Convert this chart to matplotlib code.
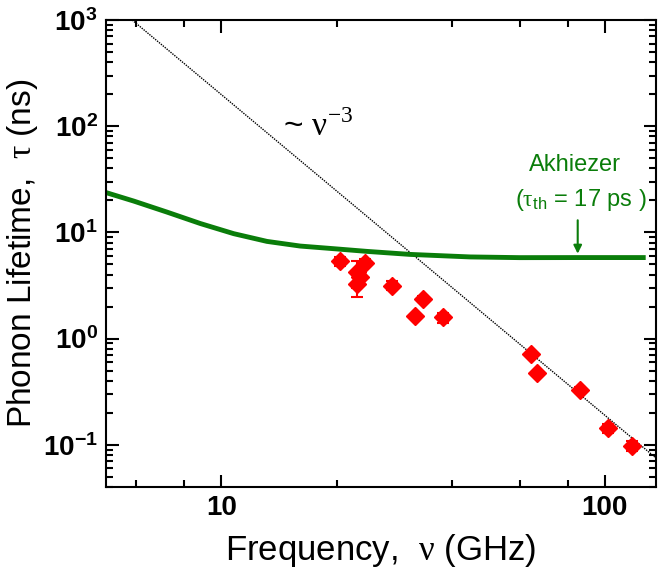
import matplotlib
matplotlib.use("Agg")
import matplotlib.pyplot as plt
from matplotlib.ticker import LogLocator, NullFormatter

plt.rcParams["font.family"] = ["Liberation Sans", "DejaVu Sans"]
plt.rcParams["mathtext.fontset"] = "custom"
plt.rcParams["mathtext.rm"] = "Liberation Serif"
plt.rcParams["mathtext.it"] = "Liberation Sans:italic"
plt.rcParams["mathtext.sf"] = "Liberation Sans"
plt.rcParams["mathtext.bf"] = "Liberation Sans:bold"

# measured phonon lifetimes (GHz, ns)
freq = [20.4, 22.6, 23.0, 22.6, 23.7, 27.8, 31.9, 33.6, 37.9, 64.1, 66.4, 86.1, 102, 118]
tau = [5.36, 4.22, 3.8, 3.28, 5.2, 3.15, 1.62, 2.36, 1.58, 0.72, 0.47, 0.33, 0.143, 0.098]
tau_err = [0.5, 1.2, 0.3, 0.8, 0.4, 0.3, 0.0, 0.15, 0.17, 0.0, 0.0, 0.02, 0.015, 0.01]

# Akhiezer curve (tau_th = 17 ps)
akh_freq = [5.04, 5.91, 7.22, 8.82, 10.77, 13.15, 16.06, 19.61, 23.96, 31.06,
            44.5, 60.0, 85.0, 126.0]
akh_tau = [23.5, 19.7, 15.5, 12.1, 9.72, 8.22, 7.43, 7.02, 6.62, 6.20,
           5.87, 5.78, 5.79, 5.79]

# ~nu^-3 guide line end points
guide_freq = [5.85, 136.0]
guide_tau = [1000.0, 0.075]

green = "#0a7d0a"

fig = plt.figure(figsize=(6.59, 5.81), dpi=100)
ax = fig.add_axes([0.1608, 0.1618, 0.9954 - 0.1608, 0.9656 - 0.1618])

ax.plot(guide_freq, guide_tau, color="black", lw=1.0, ls=(0, (1, 0.8)))
ax.plot(akh_freq, akh_tau, color=green, lw=3.5, solid_joinstyle="round")
ax.errorbar(freq, tau, yerr=tau_err, fmt="D", color="red", ms=9,
            elinewidth=1.5, capsize=4, capthick=1.5, zorder=5)

ax.set_xscale("log")
ax.set_yscale("log")
ax.set_xlim(5, 136)
ax.set_ylim(0.04, 1000)

ax.xaxis.set_minor_locator(LogLocator(base=10, subs=(2, 4, 6, 8)))
ax.xaxis.set_minor_formatter(NullFormatter())
ax.yaxis.set_minor_locator(LogLocator(base=10, subs=range(2, 10), numticks=20))
ax.yaxis.set_minor_formatter(NullFormatter())
ax.set_xticks([10, 100])
ax.set_xticklabels(["10", "100"])

ax.tick_params(which="both", direction="in", top=True, right=True, width=1.5)
ax.tick_params(which="major", length=9, labelsize=20, pad=6)
ax.tick_params(which="minor", length=5)
for lab in ax.get_xticklabels() + ax.get_yticklabels():
    lab.set_fontweight("bold")
for s in ax.spines.values():
    s.set_linewidth(1.5)

ax.set_xlabel(r"Frequency,  $\mathrm{\nu}$ (GHz)", fontsize=25, labelpad=8)
ax.set_ylabel(r"Phonon Lifetime,  $\mathrm{\tau}$ (ns)", fontsize=24, labelpad=2)

ax.text(0.385, 0.773, r"~ $\mathrm{\nu}^{\mathit{-3}}$", transform=ax.transAxes,
        fontsize=24, ha="center", va="center")
ax.text(0.852, 0.69, "Akhiezer", transform=ax.transAxes, color=green,
        fontsize=17, ha="center", va="center")
ax.text(0.863, 0.615, r"($\mathrm{\tau}_{\mathsf{th}}$ = 17 ps )", transform=ax.transAxes,
        color=green, fontsize=17, ha="center", va="center")
ax.annotate("", xy=(85, 6.3), xytext=(85, 13.0),
            arrowprops=dict(arrowstyle="-|>", color=green, lw=1.5,
                            mutation_scale=12, shrinkA=0, shrinkB=0))

fig.savefig("out.png", dpi=100)
